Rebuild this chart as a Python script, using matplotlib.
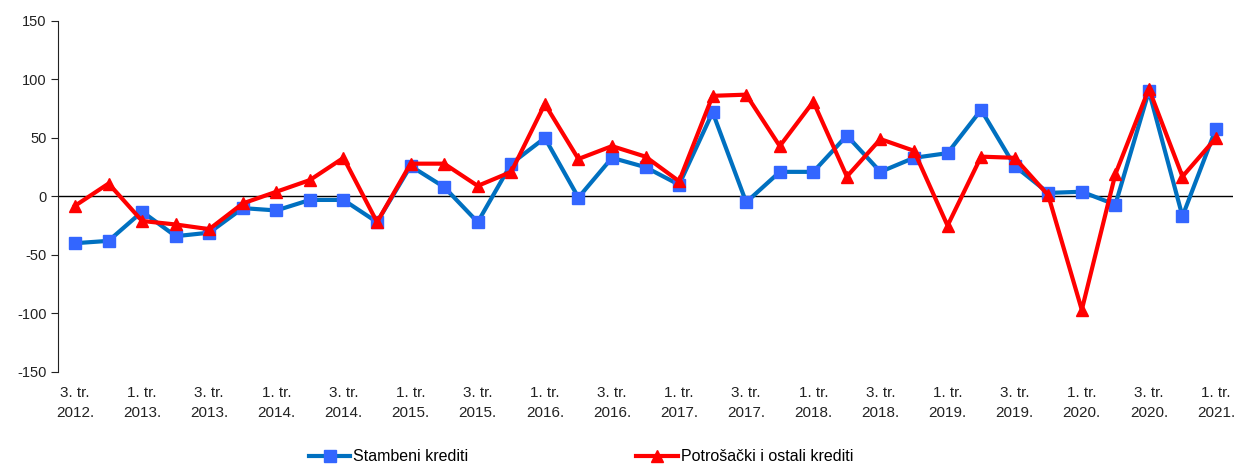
import matplotlib
matplotlib.use("Agg")
from matplotlib import pyplot as plt

plt.rcParams['font.family'] = ['Liberation Sans', 'DejaVu Sans']
plt.rcParams['axes.unicode_minus'] = False

years = list(range(2012, 2022))
quarters = []
for y in years:
    for q in range(1, 5):
        if (y == 2012 and q < 3) or (y == 2021 and q > 1):
            continue
        quarters.append((q, y))

stambeni = [-40, -38, -13, -34, -31, -10, -12, -3, -3, -22, 26,
            8, -22, 28, 50, -1, 33, 25, 10, 72, -5, 21, 21,
            52, 21, 33, 37, 74, 26, 3, 4, -7, 90, -17, 58]
potrosacki = [-8, 11, -21, -24, -28, -6, 4, 14, 33, -22, 28,
              28, 9, 21, 79, 32, 43, 34, 13, 86, 87, 43, 81,
              17, 49, 39, -25, 34, 33, 1, -97, 19, 92, 17, 50]

labels = ["%d. tr.\n%d." % (q, y) if i % 2 == 0 else "" for i, (q, y) in enumerate(quarters)]

fig = plt.figure(figsize=(12.39, 4.66), dpi=100)
ax = fig.add_axes([0.047, 0.202, 0.948, 0.753])

x = list(range(len(quarters)))
ax.plot(x, stambeni, color='#0070C0', lw=3, marker='s', ms=8,
        mfc='#3366FF', mec='#3366FF', label='Stambeni krediti', zorder=3)
ax.plot(x, potrosacki, color='#FF0000', lw=3, marker='^', ms=8,
        mfc='#FF0000', mec='#FF0000', label='Potrošački i ostali krediti', zorder=4)
ax.axhline(0, color='black', lw=1, zorder=2)

ax.set_xlim(-0.5, len(quarters) - 0.5)
ax.set_ylim(-150, 150)
ax.set_yticks([-150, -100, -50, 0, 50, 100, 150])
ax.set_xticks(x)
ax.set_xticklabels(labels, linespacing=1.55)
ax.tick_params(axis='x', length=0, pad=10, labelsize=11, colors='#222222')
ax.tick_params(axis='y', length=5, labelsize=10.5, colors='#222222', direction='out')
for s in ['top', 'right', 'bottom']:
    ax.spines[s].set_visible(False)
ax.spines['left'].set_color('#222222')

fig.legend(loc='center', bbox_to_anchor=(0.469, 0.02), ncol=2, frameon=False,
           fontsize=11.5, columnspacing=10.5, handlelength=2.6, handletextpad=0.2)

fig.savefig('out.png', dpi=100)
